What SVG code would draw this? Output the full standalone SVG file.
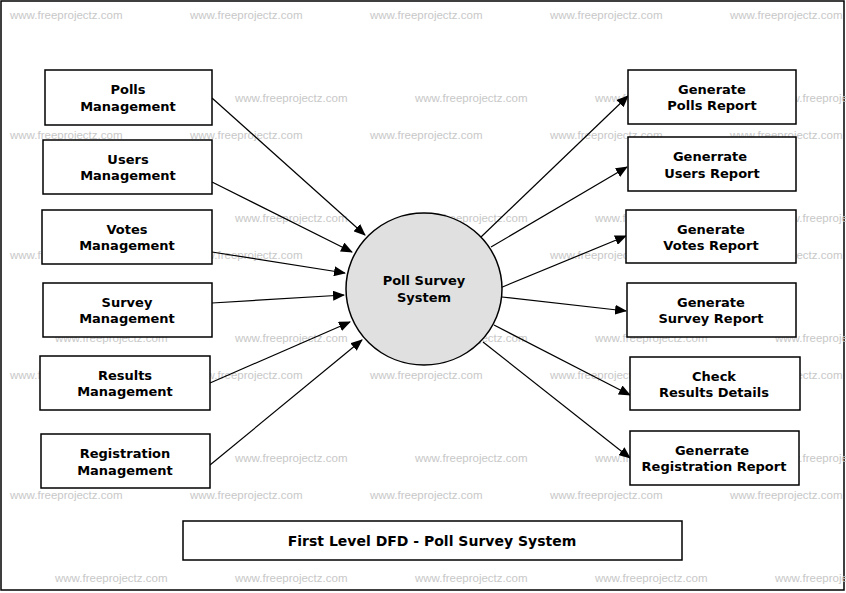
<svg xmlns="http://www.w3.org/2000/svg" width="846" height="593" viewBox="0 0 846 593">
<style>
.b{fill:#fff;stroke:#000;stroke-width:1.5}
.t{font-family:"DejaVu Sans",sans-serif;font-size:13px;font-weight:bold;text-anchor:middle}
.w{font-family:"Liberation Sans",sans-serif;font-size:11.5px;fill:#c8c8c8}
.c{stroke:#000;stroke-width:1.2;fill:none;marker-end:url(#a)}
</style>
<defs><marker id="a" markerWidth="12" markerHeight="10" refX="11" refY="5" orient="auto" markerUnits="userSpaceOnUse"><path d="M0,0 L12,5 L0,10 Z" fill="#000"/></marker></defs>
<rect x="0" y="0" width="846" height="593" fill="#fff"/>
<rect x="1" y="1" width="843" height="589" fill="none" stroke="#000" stroke-width="1.5"/>
<g id="watermarks">
<text class="w" x="10" y="19">www.freeprojectz.com</text><text class="w" x="190" y="19">www.freeprojectz.com</text><text class="w" x="370" y="19">www.freeprojectz.com</text><text class="w" x="550" y="19">www.freeprojectz.com</text><text class="w" x="730" y="19">www.freeprojectz.com</text>
<text class="w" x="55" y="102">www.freeprojectz.com</text><text class="w" x="235" y="102">www.freeprojectz.com</text><text class="w" x="415" y="102">www.freeprojectz.com</text><text class="w" x="595" y="102">www.freeprojectz.com</text><text class="w" x="775" y="102">www.freeprojectz.com</text>
<text class="w" x="10" y="139">www.freeprojectz.com</text><text class="w" x="190" y="139">www.freeprojectz.com</text><text class="w" x="370" y="139">www.freeprojectz.com</text><text class="w" x="550" y="139">www.freeprojectz.com</text><text class="w" x="730" y="139">www.freeprojectz.com</text>
<text class="w" x="55" y="222">www.freeprojectz.com</text><text class="w" x="235" y="222">www.freeprojectz.com</text><text class="w" x="415" y="222">www.freeprojectz.com</text><text class="w" x="595" y="222">www.freeprojectz.com</text><text class="w" x="775" y="222">www.freeprojectz.com</text>
<text class="w" x="10" y="259">www.freeprojectz.com</text><text class="w" x="190" y="259">www.freeprojectz.com</text><text class="w" x="370" y="259">www.freeprojectz.com</text><text class="w" x="550" y="259">www.freeprojectz.com</text><text class="w" x="730" y="259">www.freeprojectz.com</text>
<text class="w" x="55" y="342">www.freeprojectz.com</text><text class="w" x="235" y="342">www.freeprojectz.com</text><text class="w" x="415" y="342">www.freeprojectz.com</text><text class="w" x="595" y="342">www.freeprojectz.com</text><text class="w" x="775" y="342">www.freeprojectz.com</text>
<text class="w" x="10" y="379">www.freeprojectz.com</text><text class="w" x="190" y="379">www.freeprojectz.com</text><text class="w" x="370" y="379">www.freeprojectz.com</text><text class="w" x="550" y="379">www.freeprojectz.com</text><text class="w" x="730" y="379">www.freeprojectz.com</text>
<text class="w" x="55" y="462">www.freeprojectz.com</text><text class="w" x="235" y="462">www.freeprojectz.com</text><text class="w" x="415" y="462">www.freeprojectz.com</text><text class="w" x="595" y="462">www.freeprojectz.com</text><text class="w" x="775" y="462">www.freeprojectz.com</text>
<text class="w" x="10" y="499">www.freeprojectz.com</text><text class="w" x="190" y="499">www.freeprojectz.com</text><text class="w" x="370" y="499">www.freeprojectz.com</text><text class="w" x="550" y="499">www.freeprojectz.com</text><text class="w" x="730" y="499">www.freeprojectz.com</text>
<text class="w" x="55" y="582">www.freeprojectz.com</text><text class="w" x="235" y="582">www.freeprojectz.com</text><text class="w" x="415" y="582">www.freeprojectz.com</text><text class="w" x="595" y="582">www.freeprojectz.com</text><text class="w" x="775" y="582">www.freeprojectz.com</text>
</g>
<g id="connectors">
<line class="c" x1="212" y1="98" x2="365" y2="235"/>
<line class="c" x1="212" y1="182" x2="352" y2="252"/>
<line class="c" x1="212" y1="252" x2="345" y2="273"/>
<line class="c" x1="212" y1="303" x2="344" y2="295"/>
<line class="c" x1="210" y1="383" x2="350" y2="322"/>
<line class="c" x1="210" y1="465" x2="362" y2="340"/>
<line class="c" x1="481" y1="237" x2="628" y2="96"/>
<line class="c" x1="491" y1="247" x2="627" y2="167"/>
<line class="c" x1="500" y1="288" x2="626" y2="236"/>
<line class="c" x1="502" y1="297" x2="626" y2="311"/>
<line class="c" x1="494" y1="325" x2="630" y2="395"/>
<line class="c" x1="483" y1="342" x2="630" y2="458"/>
</g>
<g id="center"><ellipse cx="424" cy="289" rx="78" ry="76" fill="#e0e0e0" stroke="#000" stroke-width="1.5"/><text class="t" x="424" y="285">Poll Survey</text><text class="t" x="424" y="302">System</text></g>
<g id="polls"><rect class="b" x="45" y="70" width="167" height="55"/><text class="t" x="128" y="94">Polls</text><text class="t" x="128" y="111">Management</text></g>
<g id="users"><rect class="b" x="43" y="140" width="169" height="54"/><text class="t" x="128" y="164">Users</text><text class="t" x="128" y="180">Management</text></g>
<g id="votes"><rect class="b" x="42" y="210" width="170" height="54"/><text class="t" x="127" y="234">Votes</text><text class="t" x="127" y="250">Management</text></g>
<g id="survey"><rect class="b" x="43" y="283" width="169" height="54"/><text class="t" x="127" y="307">Survey</text><text class="t" x="127" y="323">Management</text></g>
<g id="results"><rect class="b" x="40" y="356" width="170" height="54"/><text class="t" x="125" y="380">Results</text><text class="t" x="125" y="396">Management</text></g>
<g id="registration"><rect class="b" x="41" y="434" width="169" height="54"/><text class="t" x="125" y="458">Registration</text><text class="t" x="125" y="475">Management</text></g>
<g id="r-polls"><rect class="b" x="628" y="70" width="168" height="54"/><text class="t" x="712" y="94">Generate</text><text class="t" x="712" y="110">Polls Report</text></g>
<g id="r-users"><rect class="b" x="628" y="137" width="168" height="54"/><text class="t" x="710" y="161">Generrate</text><text class="t" x="712" y="178">Users Report</text></g>
<g id="r-votes"><rect class="b" x="626" y="210" width="170" height="53"/><text class="t" x="711" y="234">Generate</text><text class="t" x="711" y="250">Votes Report</text></g>
<g id="r-survey"><rect class="b" x="627" y="283" width="169" height="54"/><text class="t" x="711" y="307">Generate</text><text class="t" x="711" y="323">Survey Report</text></g>
<g id="r-results"><rect class="b" x="630" y="357" width="170" height="53"/><text class="t" x="714" y="381">Check</text><text class="t" x="714" y="397">Results Details</text></g>
<g id="r-registration"><rect class="b" x="630" y="431" width="169" height="54"/><text class="t" x="712" y="455">Generrate</text><text class="t" x="714" y="471">Registration Report</text></g>
<g id="title"><rect class="b" x="183" y="521" width="499" height="39"/><text class="t" x="432" y="546" style="font-size:14px">First Level DFD - Poll Survey System</text></g>
</svg>
